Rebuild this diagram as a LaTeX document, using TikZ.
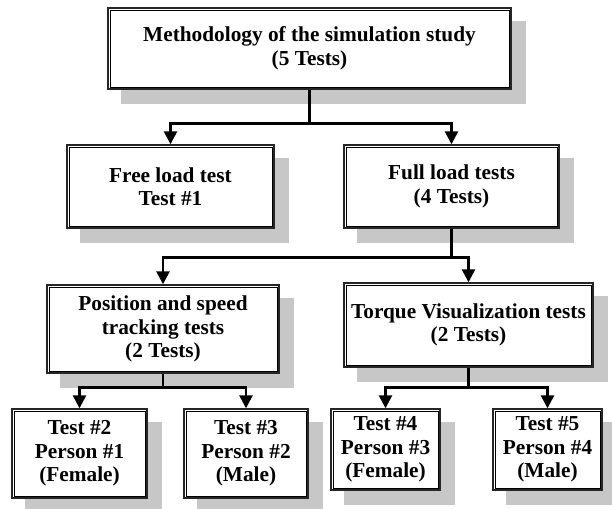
\documentclass[tikz,border=0pt]{standalone}
\usepackage{fontspec}
\setmainfont{Liberation Serif}
\usetikzlibrary{arrows.meta,backgrounds}

\begin{document}
\begin{tikzpicture}[
  x=1pt, y=-1pt,
  box/.style={rectangle, draw=black!85, line width=1.4pt, fill=white,
    align=center, inner sep=0pt,
    font=\fontsize{21.3}{23.5}\selectfont\bfseries},
  arr/.style={-{Triangle[width=13pt,length=13pt]}, line width=2.6pt}
]
\useasboundingbox (0,0) rectangle (612,508);

% level 1
\node[box, minimum width=403pt, minimum height=81pt] (study) at (309.5,48.5)
  {Methodology of the simulation study\\(5 Tests)};

% level 2
\node[box, minimum width=207pt, minimum height=83pt] (free) at (170.5,186.5)
  {Free load test\\Test \#1};
\node[box, minimum width=215pt, minimum height=83pt] (full) at (451.5,186.5)
  {Full load tests\\(4 Tests)};

% level 3
\node[box, minimum width=232pt, minimum height=88pt] (track) at (163,329)
  {Position and speed\\tracking tests\\(2 Tests)};
\node[box, minimum width=249pt, minimum height=84pt] (torque) at (468.5,325)
  {Torque Visualization tests\\(2 Tests)};

% level 4
\node[box, minimum width=135pt, minimum height=89pt] (testb) at (79.5,453.5)
  {Test \#2\\Person \#1\\(Female)};
\node[box, minimum width=124pt, minimum height=89pt] (testc) at (246,453.5)
  {Test \#3\\Person \#2\\(Male)};
\node[box, minimum width=109pt, minimum height=81pt] (testd) at (385.5,449.5)
  {Test \#4\\Person \#3\\(Female)};
\node[box, minimum width=109pt, minimum height=81pt] (teste) at (547.5,449.5)
  {Test \#5\\Person \#4\\(Male)};

% inner frame line and grey shadow of every box
\foreach \b in {study,free,full,track,torque,testb,testc,testd,teste}
  \draw[line width=0.6pt] ([shift={(2.6,2.6)}]\b.north west) rectangle ([shift={(-2.6,-2.6)}]\b.south east);
\begin{scope}[on background layer]
\foreach \b in {study,free,full,track,torque,testb,testc,testd,teste}
  \fill[black!22] ([shift={(14,14)}]\b.north west) rectangle ([shift={(14,14)}]\b.south east);
\end{scope}

% connectors
\draw[line width=2.6pt] (study.south) -- ++(0,34) coordinate (splita);
\draw[arr] (splita) -| (free.north);
\draw[arr] (splita) -| (full.north);

\draw[line width=2.6pt] (full.south) -- ++(0,29) coordinate (splitb);
\draw[arr] (splitb) -| (track.north);
\draw[arr] (splitb) -| (torque.north);

\draw[line width=2.6pt] (track.south) -- ++(0,14) coordinate (splitc);
\draw[arr] (splitc) -| (testb.north);
\draw[arr] (splitc) -| (testc.north);

\draw[line width=2.6pt] (torque.south) -- ++(0,20) coordinate (splitd);
\draw[arr] (splitd) -| (testd.north);
\draw[arr] (splitd) -| (teste.north);
\end{tikzpicture}
\end{document}
